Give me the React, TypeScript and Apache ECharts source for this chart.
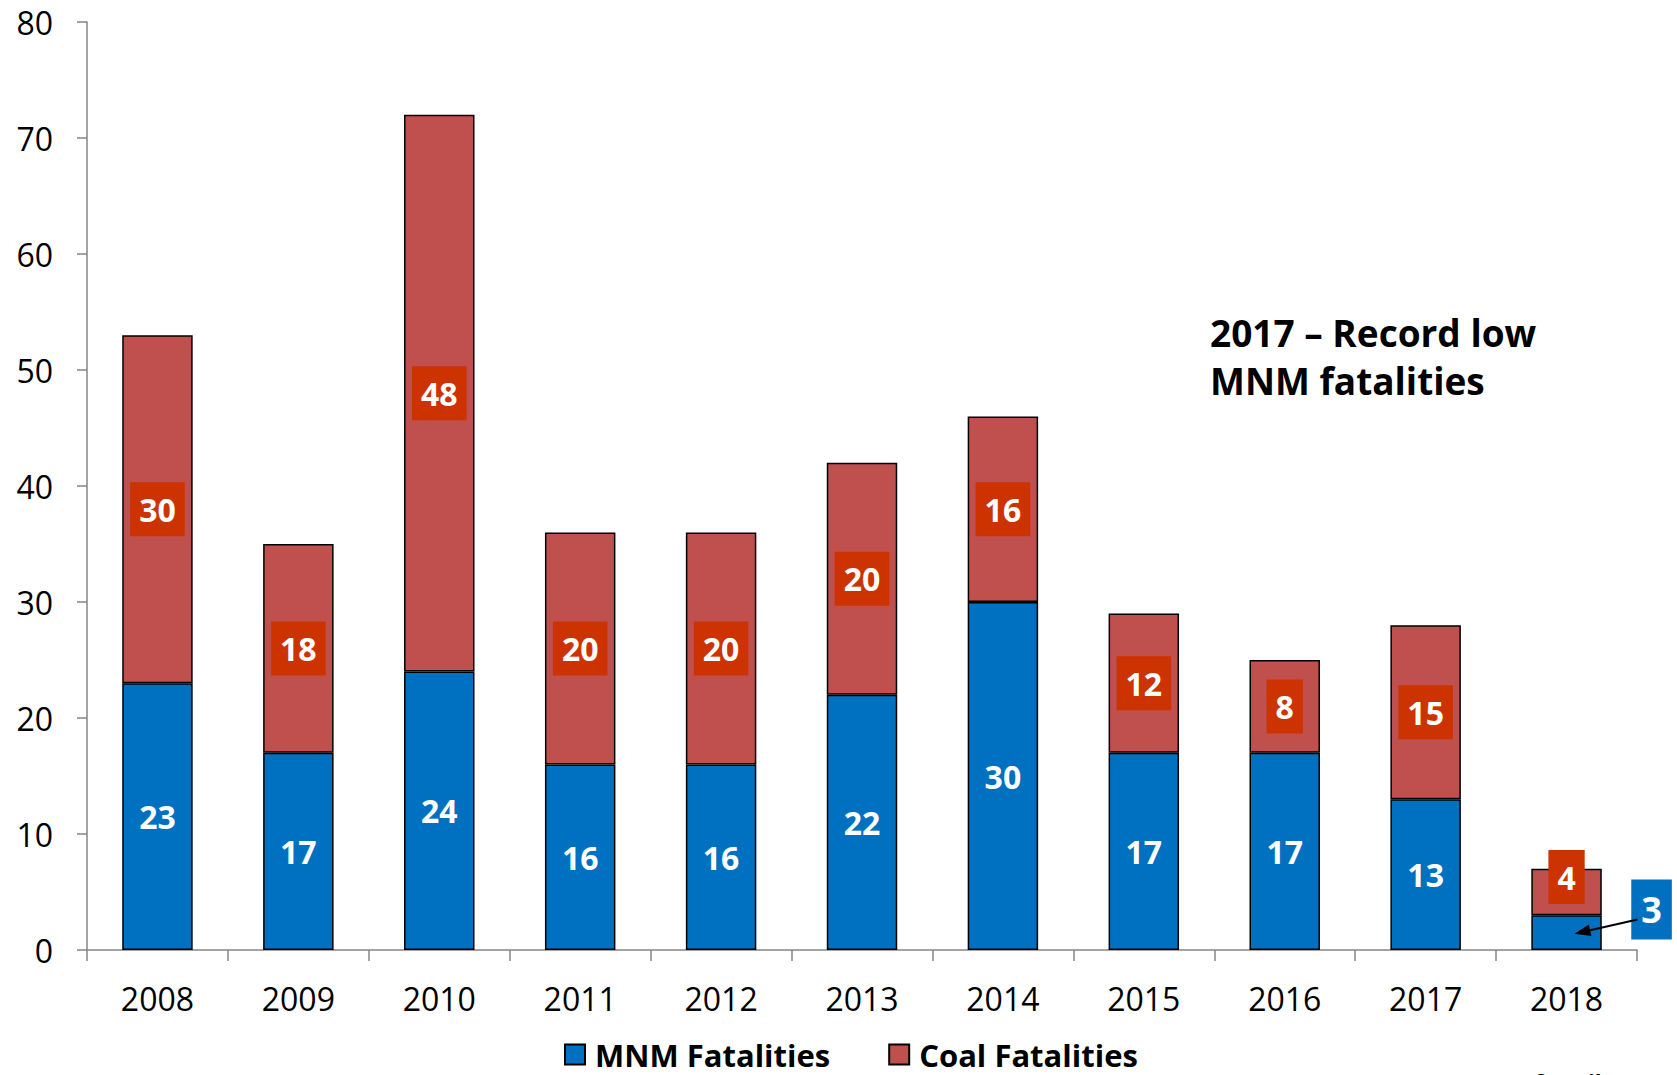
import React, { useEffect, useRef } from "react";
import * as echarts from "echarts";

const years = ["2008", "2009", "2010", "2011", "2012", "2013", "2014", "2015", "2016", "2017", "2018"];
const mnmFatalities = [23, 17, 24, 16, 16, 22, 30, 17, 17, 13, 3];
const coalFatalities = [30, 18, 48, 20, 20, 20, 16, 12, 8, 15, 4];
const annotationLines = ["2017 – Record low", "MNM fatalities"];
const footnote = "Data as of April 21, 2018";

const FONT = "'Open Sans', sans-serif";

export default function App() {
  const ref = useRef<HTMLDivElement>(null);

  useEffect(() => {
    const chart = echarts.init(ref.current!, null, { renderer: "svg" });
    const last = years.length - 1;

    const mnmData = mnmFatalities.map((v, i) =>
      i === last
        ? {
            value: v,
            label: {
              offset: [85, -23],
              backgroundColor: "#0070C0",
              padding: [10, 10],
              fontSize: 36,
              lineHeight: 40,
            },
          }
        : v
    );
    const coalData = coalFatalities.map((v, i) =>
      i === last ? { value: v, label: { offset: [0, -15] } } : v
    );

    const option: any = {
      animation: false,
      backgroundColor: "#ffffff",
      grid: { left: 87, right: 40, top: 22, bottom: 125, containLabel: false },
      legend: {
        left: 559,
        top: 1034,
        itemWidth: 20,
        itemHeight: 20,
        itemGap: 58,
        icon: "rect",
        textStyle: {
          fontFamily: FONT,
          fontSize: 31,
          fontWeight: "bold",
          color: "#000",
          padding: [0, 0, 0, 5],
        },
        data: ["MNM Fatalities", "Coal Fatalities"],
      },
      xAxis: {
        type: "category",
        data: years,
        axisLine: { lineStyle: { color: "#868686", width: 1.5 } },
        axisTick: { show: true, length: 11, lineStyle: { color: "#868686", width: 1.5 } },
        axisLabel: { fontFamily: FONT, fontSize: 32, color: "#000", margin: 32 },
      },
      yAxis: {
        type: "value",
        min: 0,
        max: 80,
        interval: 10,
        axisLine: { show: true, lineStyle: { color: "#868686", width: 1.5 } },
        axisTick: { show: true, length: 10, lineStyle: { color: "#868686", width: 1.5 } },
        splitLine: { show: false },
        axisLabel: { fontFamily: FONT, fontSize: 32, color: "#000", margin: 34 },
      },
      series: [
        {
          name: "MNM Fatalities",
          type: "bar",
          stack: "total",
          barCategoryGap: "50%",
          data: mnmData,
          itemStyle: { color: "#0070C0", borderColor: "#000", borderWidth: 1.5 },
          label: {
            show: true,
            position: "inside",
            color: "#fff",
            fontFamily: FONT,
            fontSize: 32,
            fontWeight: "bold",
          },
        },
        {
          name: "Coal Fatalities",
          type: "bar",
          stack: "total",
          barCategoryGap: "50%",
          data: coalData,
          itemStyle: { color: "#C0504D", borderColor: "#000", borderWidth: 1.5 },
          label: {
            show: true,
            position: "inside",
            color: "#fff",
            fontFamily: FONT,
            fontSize: 32,
            fontWeight: "bold",
            backgroundColor: "#CC3300",
            padding: [9, 9],
            lineHeight: 36,
          },
        },
      ],
    };

    chart.setOption(option);

    // arrow from the "3" label box to the 2018 MNM segment
    const mid = chart.convertToPixel({ gridIndex: 0 }, [last, mnmFatalities[last] / 2]) as number[];
    const labelCx = mid[0] + 85;
    const labelCy = mid[1] - 23;
    const start = [labelCx - 14, labelCy + 10];
    const tip = chart.convertToPixel({ gridIndex: 0 }, [last, 1.4]) as number[];
    const end = [tip[0] + 8, tip[1]];
    const dx = end[0] - start[0];
    const dy = end[1] - start[1];
    const len = Math.sqrt(dx * dx + dy * dy);
    const ux = dx / len;
    const uy = dy / len;
    const headLen = 16;
    const headW = 6;
    const bx = end[0] - ux * headLen;
    const by = end[1] - uy * headLen;

    chart.setOption({
      graphic: [
        {
          type: "line",
          shape: { x1: start[0], y1: start[1], x2: bx, y2: by },
          style: { stroke: "#000", lineWidth: 2 },
          z: 100,
        },
        {
          type: "polygon",
          shape: {
            points: [
              [end[0], end[1]],
              [bx - uy * headW, by + ux * headW],
              [bx + uy * headW, by - ux * headW],
            ],
          },
          style: { fill: "#000" },
          z: 100,
        },
        {
          type: "text",
          x: 1210,
          y: 308,
          style: {
            text: annotationLines.join("\n"),
            font: `bold 37px ${FONT}`,
            lineHeight: 48,
            fill: "#000",
            textVerticalAlign: "top",
          },
          z: 100,
        },
        {
          type: "text",
          x: 1433,
          y: 1070,
          style: {
            text: footnote,
            font: `bold 22px ${FONT}`,
            fill: "#000",
            textVerticalAlign: "top",
          },
          z: 100,
        },
      ],
    });

    return () => chart.dispose();
  }, []);

  return (
    <div
      ref={ref}
      style={{ position: "absolute", left: 0, top: 0, width: 1677, height: 1075 }}
    />
  );
}
